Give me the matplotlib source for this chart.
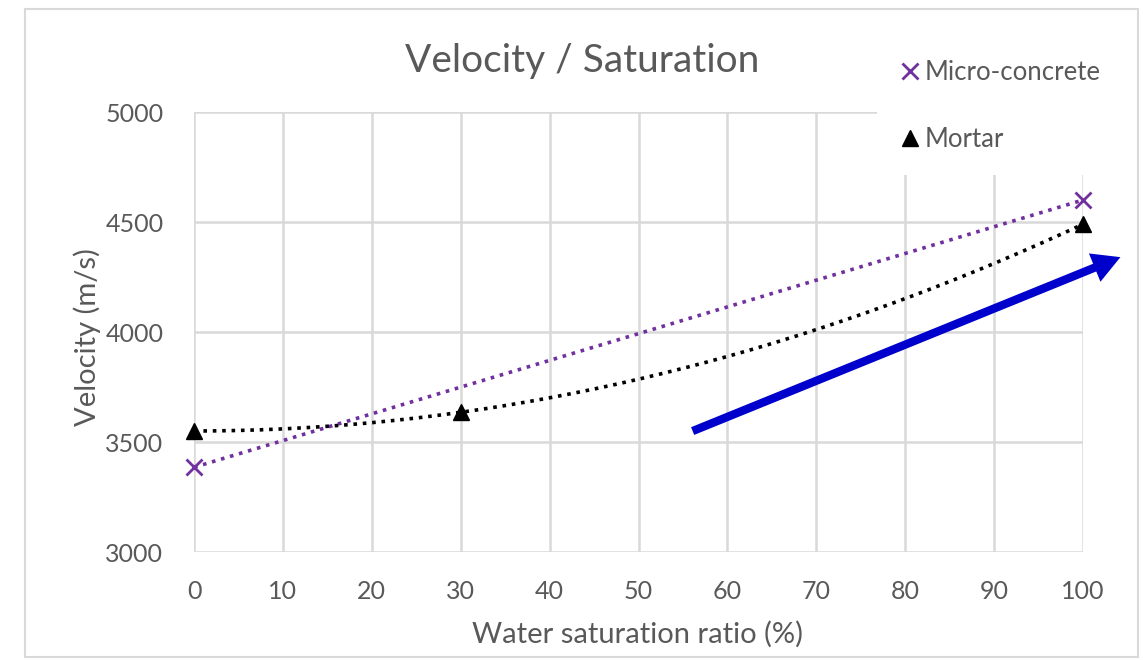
import numpy as np
import matplotlib.pyplot as plt
from matplotlib.lines import Line2D
from matplotlib.patches import Rectangle

plt.rcParams['font.family'] = ['Lato', 'DejaVu Sans']

# data
micro_x = [0, 100]
micro_y = [3385, 4600]
mortar_x = [0, 30, 100]
mortar_y = [3550, 3635, 4490]

x_ticks = list(range(0, 101, 10))
y_ticks = [3000, 3500, 4000, 4500, 5000]

grey_txt = '#595959'
grid_c = '#d9d9d9'
purple = '#7030A0'

fig = plt.figure(figsize=(11.43, 6.6), dpi=100)
ax = fig.add_axes([194 / 1143, 1 - 552 / 660, 889 / 1143, 440 / 660])

# outer chart border
fig.patches.append(Rectangle((25 / 1143, 3 / 660), 1113 / 1143, 648 / 660,
                             transform=fig.transFigure, fill=False,
                             edgecolor=grid_c, lw=1.5))

# trendlines (linear for micro-concrete, 2nd order for mortar)
xs = np.linspace(0, 100, 200)
p1 = np.polyfit(micro_x, micro_y, 1)
p2 = np.polyfit(mortar_x, mortar_y, 2)
ax.plot(xs, np.polyval(p1, xs), color=purple, lw=2.6, ls=(0, (1, 1.6)), zorder=3)
ax.plot(xs, np.polyval(p2, xs), color='black', lw=2.6, ls=(0, (1, 1.6)), zorder=3)

ax.plot(micro_x, micro_y, 'x', color=purple, ms=11, mew=2, zorder=4, clip_on=False)
ax.plot(mortar_x, mortar_y, '^', color='black', ms=11, zorder=4, clip_on=False)

ax.set_xlim(0, 100)
ax.set_ylim(3000, 5000)
ax.set_xticks(x_ticks)
ax.set_yticks(y_ticks)
ax.grid(True, color=grid_c, lw=1.8)
ax.set_axisbelow(True)
for s in ax.spines.values():
    s.set_visible(False)
ax.tick_params(length=0, labelsize=18, labelcolor=grey_txt)
ax.tick_params(axis='y', pad=22)
ax.tick_params(axis='x', pad=20)

fig.text(582 / 1143, 1 - 61 / 660, 'Velocity / Saturation', ha='center', va='center',
         fontsize=28, color=grey_txt)
fig.text(637 / 1143, 1 - 634 / 660, 'Water saturation ratio (%)', ha='center', va='center',
         fontsize=21, color=grey_txt)
fig.text(87 / 1143, 1 - 337 / 660, 'Velocity (m/s)', ha='center', va='center',
         rotation=90, fontsize=21, color=grey_txt)

handles = [Line2D([], [], marker='x', color=purple, ls='none', ms=11, mew=2),
           Line2D([], [], marker='^', color='black', ls='none', ms=11)]
fig.legend(handles, ['Micro-concrete', 'Mortar'], loc='upper left',
           bbox_to_anchor=(864 / 1143, 1 - 24 / 660), frameon=True, fancybox=False,
           facecolor='white', edgecolor='none', framealpha=1, fontsize=18.5,
           labelcolor=grey_txt, handlelength=0.8, handletextpad=0.15,
           labelspacing=1.65, borderpad=0.9)

# blue arrow annotation
ax.annotate('', xy=(104.5, 4345), xytext=(55.8, 3545), annotation_clip=False,
            arrowprops=dict(arrowstyle='simple,head_length=0.5,head_width=0.55,tail_width=0.15',
                            mutation_scale=40, color='#0000CC', lw=0), zorder=5)

plt.savefig('out.png', dpi=100)
